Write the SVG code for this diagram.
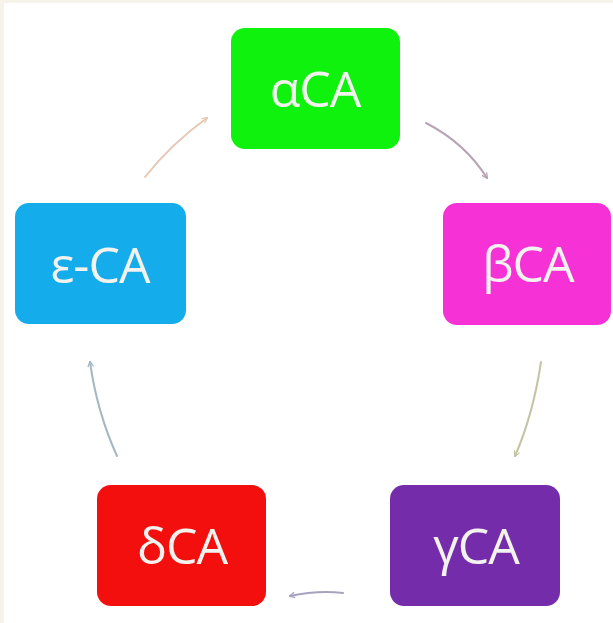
<svg xmlns="http://www.w3.org/2000/svg" width="613" height="623" viewBox="0 0 613 623">
<defs>
<style>
.box{stroke:none}
.lbl{font-family:"Open Sans","Noto Sans","Liberation Sans",sans-serif;font-size:50px;letter-spacing:-1px;fill:#f2f2ee;text-anchor:middle}
.c{fill:none;stroke-width:2;stroke-linecap:round}
</style>
<marker id="ah" viewBox="0 0 10 10" refX="8" refY="5" markerWidth="7" markerHeight="7" orient="auto-start-reverse" markerUnits="userSpaceOnUse">
<path d="M1,1 L9,5 L1,9" fill="none" stroke="context-stroke" stroke-width="1.8"/>
</marker>
</defs>
<rect x="0" y="0" width="613" height="623" fill="#f6f4ea"/>
<rect x="4" y="3" width="609" height="620" fill="#ffffff"/>
<g id="connectors">
<path class="c" d="M145,177 Q172,143 207,118" stroke="#e8c8b4" marker-end="url(#ah)"/>
<path class="c" d="M426,123 Q465,143 487,178" stroke="#b8a4b4" marker-end="url(#ah)"/>
<path class="c" d="M541,362 Q533,415 515,456" stroke="#c4c4a4" marker-end="url(#ah)"/>
<path class="c" d="M343,593 Q318,590 290,596" stroke="#a8a2c0" marker-end="url(#ah)"/>
<path class="c" d="M117,456 Q97,412 90,362" stroke="#a4b8c0" marker-end="url(#ah)"/>
</g>
<g id="alpha">
<rect class="box" x="231" y="28" width="169" height="121" rx="14" fill="#0ef20e"/>
<text class="lbl" x="315" y="107">αCA</text>
</g>
<g id="beta">
<rect class="box" x="443" y="203" width="168" height="122" rx="14" fill="#f632d6"/>
<text class="lbl" x="528" y="282">βCA</text>
</g>
<g id="gamma">
<rect class="box" x="390" y="485" width="170" height="121" rx="14" fill="#752caa"/>
<text class="lbl" x="476" y="564">γCA</text>
</g>
<g id="delta">
<rect class="box" x="97" y="485" width="169" height="121" rx="14" fill="#f40f0f"/>
<text class="lbl" x="182" y="564">δCA</text>
</g>
<g id="epsilon">
<rect class="box" x="15" y="203" width="171" height="121" rx="14" fill="#14aceb"/>
<text class="lbl" x="100" y="283">ε-CA</text>
</g>
</svg>
